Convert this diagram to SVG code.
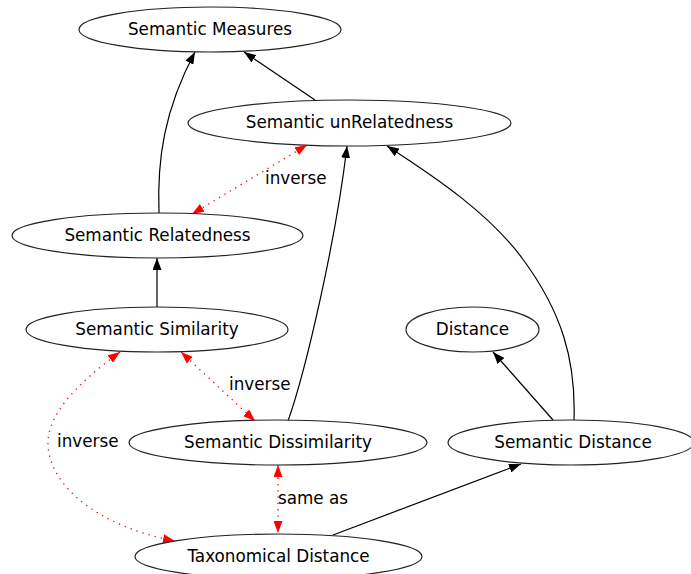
<svg xmlns="http://www.w3.org/2000/svg" width="691" height="574" viewBox="0 0 691 574">
<style>
.n ellipse{fill:#fff;stroke:#222;stroke-width:1.2}
.n text,.lbl{font-family:"DejaVu Sans","Noto Sans",sans-serif;font-size:16.8px;fill:#000}
.n text{text-anchor:middle}
.e{fill:none;stroke:#000;stroke-width:1.2;marker-end:url(#ab)}
.r{fill:none;stroke:#f00;stroke-width:1.3;stroke-dasharray:1.3,5;marker-end:url(#ar);marker-start:url(#ar)}
</style>
<defs>
<marker id="ab" viewBox="0 0 12 9" refX="12" refY="4.5" markerWidth="12" markerHeight="9" markerUnits="userSpaceOnUse" orient="auto-start-reverse"><path d="M0,0L12,4.5L0,9z" fill="#000"/></marker>
<marker id="ar" viewBox="0 0 12 9" refX="12" refY="4.5" markerWidth="12" markerHeight="9" markerUnits="userSpaceOnUse" orient="auto-start-reverse"><path d="M0,0L12,4.5L0,9z" fill="#f00"/></marker>
</defs>
<rect width="691" height="574" fill="#fff"/>
<g id="edges">
<path class="e" d="M159,213C157,160 164,110 195,52"/>
<path class="e" d="M315,100L244,52"/>
<path class="r" d="M192,214L307,145"/>
<path class="e" d="M288,421C306,370 336,240 347,146"/>
<path class="e" d="M574,420C576,360 562,312 522,258C490,215 440,180 387,146"/>
<path class="e" d="M157,307L157,258"/>
<path class="r" d="M120,352C75,385 48,415 48,443C48,482 92,525 175,541"/>
<path class="r" d="M181,352L255,421"/>
<path class="r" d="M278,465L278,533"/>
<path class="e" d="M333,535L521,464"/>
<path class="e" d="M553,420L493,352"/>
<text class="lbl" x="265" y="184">inverse</text>
<text class="lbl" x="229" y="390">inverse</text>
<text class="lbl" x="57" y="447">inverse</text>
<text class="lbl" x="278" y="504">same as</text>
</g>
<g id="n1" class="n"><ellipse cx="210" cy="29.5" rx="131" ry="22.5"/><text x="210" y="34.5">Semantic Measures</text></g>
<g id="n2" class="n"><ellipse cx="349.5" cy="123" rx="161.5" ry="23"/><text x="349.5" y="128">Semantic unRelatedness</text></g>
<g id="n3" class="n"><ellipse cx="157.5" cy="235.5" rx="145.5" ry="22.5"/><text x="157.5" y="240.5">Semantic Relatedness</text></g>
<g id="n4" class="n"><ellipse cx="157" cy="329.5" rx="131" ry="22.5"/><text x="157" y="334.5">Semantic Similarity</text></g>
<g id="n5" class="n"><ellipse cx="472.5" cy="329.5" rx="66.5" ry="22.5"/><text x="472.5" y="334.5">Distance</text></g>
<g id="n6" class="n"><ellipse cx="278" cy="442.5" rx="149" ry="22.5"/><text x="278" y="447.5">Semantic Dissimilarity</text></g>
<g id="n7" class="n"><ellipse cx="571" cy="442.5" rx="123" ry="22.5"/><text x="573" y="447.5">Semantic Distance</text></g>
<g id="n8" class="n"><ellipse cx="278.5" cy="556.5" rx="143.5" ry="22.5"/><text x="278.5" y="561.5">Taxonomical Distance</text></g>
</svg>
